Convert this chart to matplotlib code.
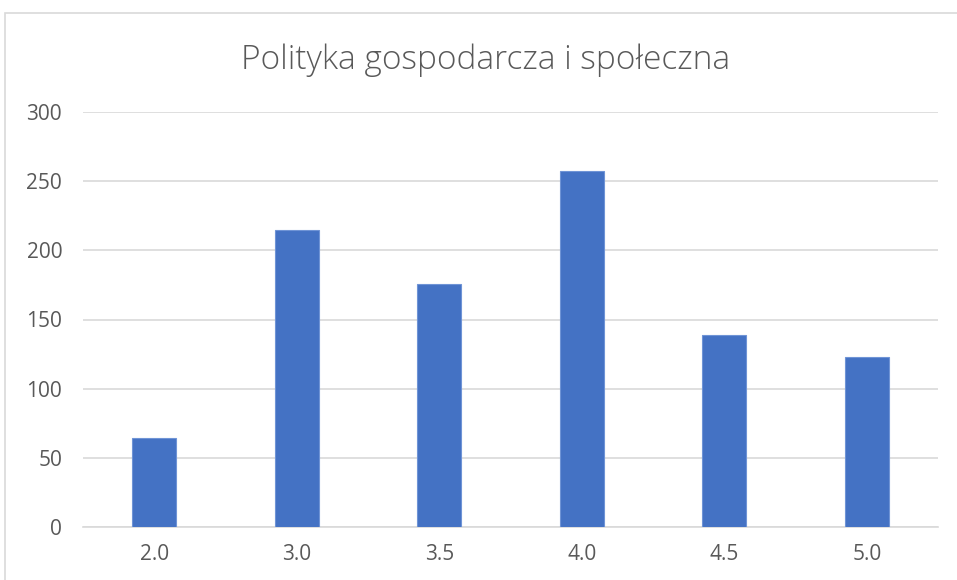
import matplotlib.pyplot as plt
from matplotlib.patches import Rectangle

categories = ['2.0', '3.0', '3.5', '4.0', '4.5', '5.0']
counts = [64, 215, 176, 257, 139, 123]
yticks = [0, 50, 100, 150, 200, 250, 300]

plt.rcParams['font.family'] = ['Open Sans', 'DejaVu Sans']

fig = plt.figure(figsize=(9.57, 5.8), dpi=100)
ax = fig.add_axes([83 / 957, 1 - 527 / 580, (938 - 83) / 957, (527 - 112) / 580])

# chart frame (cropped on the right and bottom in the original)
fig.patches.append(Rectangle((5 / 957, -0.1), 2, 1.1 - 13 / 580, transform=fig.transFigure,
                             fill=False, edgecolor='#d9d9d9', linewidth=1.2))

x = range(len(categories))
ax.bar(x, counts, width=0.31, color='#4472c4', edgecolor='#6f94d6', linewidth=0.8, zorder=3)

ax.set_xlim(-0.5, len(categories) - 0.5)
ax.set_ylim(0, 300)
ax.set_yticks(yticks)
ax.set_xticks(list(x))
ax.set_xticklabels(categories)
ax.grid(axis='y', color='#d9d9d9', linewidth=1.2, zorder=0)
for s in ['top', 'right', 'left']:
    ax.spines[s].set_visible(False)
ax.spines['bottom'].set_color('#d9d9d9')
ax.spines['bottom'].set_linewidth(1.2)
ax.tick_params(axis='both', length=0, labelsize=15, labelcolor='#595959')
ax.tick_params(axis='x', pad=12)
ax.tick_params(axis='y', pad=15)

fig.text(486 / 957, 1 - 60 / 580, 'Polityka gospodarcza i społeczna', ha='center', va='center',
         fontsize=24, color='#595959', fontweight='light')

fig.savefig('out.png', dpi=100)
